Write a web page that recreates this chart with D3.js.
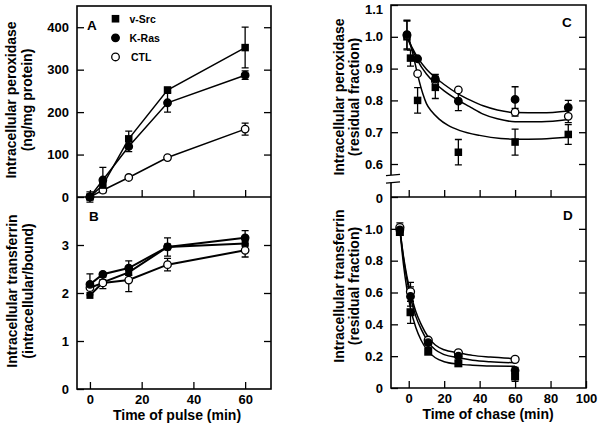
<!DOCTYPE html>
<html><head><meta charset="utf-8">
<script src="https://cdn.jsdelivr.net/npm/d3@7"></script>
<style>html,body{margin:0;padding:0;background:#fff;}svg{display:block;}</style>
</head><body>
<svg id="chart" width="598" height="424"></svg>
<script>
// ---------------- DATA ----------------
const seriesNames = ["v-Src", "K-Ras", "CTL"];
// Panel A: intracellular peroxidase (ng/mg protein) vs time of pulse
const pulseTimes = [0, 5, 15, 30, 60];
const peroxSrc = [0, 28, 137, 252, 352];
const peroxSrcErr = [12, 0, 18, 6, 48];
const peroxRas = [0, 40, 119, 222, 287];
const peroxRasErr = [0, 30, 12, 22, 10];
const peroxCtl = [0, 16, 46, 93, 160];
const peroxCtlErr = [0, 0, 0, 0, 14];
// Panel B: intracellular transferrin (intracellular/bound)
const tfSrc = [1.95, 2.22, 2.43, 2.96, 3.03];
const tfSrcErr = [0, 0, 0, 0, 0];
const tfRas = [2.18, 2.39, 2.52, 2.96, 3.15];
const tfRasErr = [0.22, 0, 0.15, 0.19, 0.15];
const tfCtl = [2.11, 2.21, 2.27, 2.59, 2.89];
const tfCtlErr = [0, 0.12, 0.24, 0.13, 0.14];
// Panel C: residual peroxidase vs time of chase
const cSrcX = [-1, 1, 5, 15, 28, 60, 90];
const cSrc = [1.0, 0.933, 0.80, 0.841, 0.637, 0.669, 0.693];
const cSrcErr = [0, 0.025, 0.04, 0.035, 0.04, 0.041, 0.031];
const cRasX = [-1, 5, 15, 28, 60, 90];
const cRas = [1.007, 0.931, 0.867, 0.798, 0.803, 0.778];
const cRasErr = [0.045, 0, 0.015, 0.03, 0.04, 0.022];
const cCtlX = [-1, 5, 15, 28, 60, 90];
const cCtl = [1.004, 0.884, 0.862, 0.833, 0.763, 0.75];
const cCtlErr = [0.045, 0, 0, 0, 0.012, 0.02];
// Panel C fitted curves
const cFitRasX = [-1, 2, 5, 10, 15, 20, 28, 35, 42, 50, 60, 75, 90];
const cFitRas = [1.0, 0.965, 0.935, 0.898, 0.872, 0.85, 0.82, 0.80, 0.783, 0.77, 0.762, 0.761, 0.767];
const cFitCtlX = [-1, 2, 5, 10, 15, 20, 28, 35, 42, 50, 60, 75, 90];
const cFitCtl = [1.0, 0.96, 0.925, 0.883, 0.853, 0.83, 0.80, 0.778, 0.757, 0.742, 0.733, 0.733, 0.74];
const cFitSrcX = [0, 2.6, 5.5, 8, 10, 13, 17, 22, 29, 40, 52, 60, 75, 90];
const cFitSrc = [1.0, 0.94, 0.87, 0.82, 0.79, 0.765, 0.742, 0.722, 0.705, 0.69, 0.68, 0.678, 0.679, 0.684];
// Panel D: residual transferrin vs time of chase
const dX = [-5, 1, 11, 28, 60];
const dSrc = [0.98, 0.476, 0.228, 0.155, 0.072];
const dSrcErr = [0, 0.07, 0, 0, 0.03];
const dRas = [0.994, 0.575, 0.285, 0.20, 0.11];
const dRasErr = [0, 0.06, 0.03, 0, 0.02];
const dCtl = [1.008, 0.604, 0.30, 0.221, 0.18];
const dCtlErr = [0.03, 0.06, 0, 0, 0];
// Panel D fitted curves
const dFitX = [-5, -3, -1, 1, 4, 7, 11, 15, 20, 28, 36, 46, 60];
const dFitCtl = [1.0, 0.83, 0.70, 0.60, 0.48, 0.40, 0.32, 0.27, 0.24, 0.222, 0.205, 0.195, 0.185];
const dFitRas = [1.0, 0.82, 0.68, 0.57, 0.45, 0.37, 0.29, 0.24, 0.21, 0.19, 0.175, 0.165, 0.158];
const dFitSrc = [1.0, 0.78, 0.62, 0.50, 0.38, 0.30, 0.23, 0.19, 0.165, 0.15, 0.143, 0.138, 0.137];
// Tick labels
const pulseTicks = [0, 20, 40, 60];
const peroxTicks = [0, 100, 200, 300, 400];
const tfTicks = [0, 1, 2, 3];
const chaseTicks = [0, 20, 40, 60, 80, 100];
const cTicks = [0, 0.6, 0.7, 0.8, 0.9, 1.0, 1.1];
const dTicks = [0, 0.2, 0.4, 0.6, 0.8, 1.0];

// ---------------- LAYOUT ----------------
const FONT = "'Liberation Sans', Arial, Helvetica, sans-serif";
const svg = d3.select("#chart").style("font-family", FONT);

const L = {x0: 77, x1: 271, aTop: 6, mid: 197, bBot: 389};
const R = {x0: 391, x1: 586, cTop: 5, mid: 197, dBot: 388};

const xL = d3.scaleLinear().domain([-5, 70]).range([L.x0, L.x1]);
const yA = d3.scaleLinear().domain([0, 450]).range([L.mid, L.aTop]);
const yB = d3.scaleLinear().domain([0, 4]).range([L.bBot, L.mid]);
const xR = d3.scaleLinear().domain([-10, 100]).range([R.x0, R.x1]);
const yC = d3.scaleLinear().domain([0, 0.545, 1.1]).range([R.mid, 181.5, R.cTop]);
const yD = d3.scaleLinear().domain([0, 1.2]).range([R.dBot, R.mid]);

const TICK = 7;

function styleAxis(g, fs) {
  g.select(".domain").remove();
  g.selectAll(".tick line").attr("stroke", "#000").attr("stroke-width", 1.3);
  g.selectAll(".tick text").attr("fill", "#000").attr("font-size", fs || 13)
    .attr("font-weight", "bold").attr("font-family", FONT);
}

function axes(opts) {
  const {x, y, left, right, bottom, yTicks, yFmt, xTicks, xLabels, yRightTicks} = opts;
  const gl = svg.append("g").attr("transform", `translate(${left},0)`)
    .call(d3.axisLeft(y).tickValues(yTicks).tickSize(-TICK).tickPadding(8).tickFormat(yFmt));
  styleAxis(gl);
  const gr = svg.append("g").attr("transform", `translate(${right},0)`)
    .call(d3.axisRight(y).tickValues(yRightTicks).tickSize(-TICK).tickFormat(""));
  styleAxis(gr);
  const gb = svg.append("g").attr("transform", `translate(0,${bottom})`)
    .call(d3.axisBottom(x).tickValues(xTicks).tickSize(-TICK).tickPadding(6)
      .tickFormat(xLabels ? d3.format("d") : ""));
  styleAxis(gb);
  return gl;
}

// ---------------- MARKS ----------------
const lineGen = (x, y) => d3.line().x(d => x(d[0])).y(d => y(d[1]));

function drawLine(xs, ys, x, y, w, curve) {
  const gen = lineGen(x, y);
  if (curve) gen.curve(curve);
  svg.append("path").datum(d3.zip(xs, ys)).attr("d", gen)
    .attr("fill", "none").attr("stroke", "#000").attr("stroke-width", w);
}

function drawErr(xs, ys, es, x, y) {
  const idx = d3.range(xs.length).filter(i => es[i] > 0);
  const cap = 3.5;
  svg.append("g").selectAll("path").data(idx).join("path")
    .attr("d", i => {
      const cx = x(xs[i]), y1 = y(ys[i] - es[i]), y2 = y(ys[i] + es[i]);
      return `M${cx},${y1}V${y2}M${cx - cap},${y1}h${2 * cap}M${cx - cap},${y2}h${2 * cap}`;
    })
    .attr("fill", "none").attr("stroke", "#000").attr("stroke-width", 1.3);
}

function drawMarkers(xs, ys, x, y, kind, size) {
  const data = d3.zip(xs, ys);
  const g = svg.append("g");
  if (kind === "square") {
    g.selectAll("rect").data(data).join("rect")
      .attr("x", d => x(d[0]) - size / 2).attr("y", d => y(d[1]) - size / 2)
      .attr("width", size).attr("height", size).attr("fill", "#000");
  } else {
    g.selectAll("circle").data(data).join("circle")
      .attr("cx", d => x(d[0])).attr("cy", d => y(d[1])).attr("r", size / 2)
      .attr("fill", kind === "filled" ? "#000" : "#fff")
      .attr("stroke", "#000").attr("stroke-width", 1.3);
  }
}

function text(x, y, str, fs, anchor, rotate) {
  const t = svg.append("text").text(str).attr("font-size", fs).attr("font-weight", "bold")
    .attr("fill", "#000").attr("text-anchor", anchor || "start");
  if (rotate) t.attr("transform", `translate(${x},${y}) rotate(-90)`);
  else t.attr("x", x).attr("y", y);
  return t;
}

// ---------- Panel A ----------
drawLine(pulseTimes, peroxSrc, xL, yA, 1.5);
drawLine(pulseTimes, peroxRas, xL, yA, 1.5);
drawLine(pulseTimes, peroxCtl, xL, yA, 1.5);
drawErr(pulseTimes, peroxSrc, peroxSrcErr, xL, yA);
drawErr(pulseTimes, peroxRas, peroxRasErr, xL, yA);
drawErr(pulseTimes, peroxCtl, peroxCtlErr, xL, yA);
drawMarkers(pulseTimes, peroxCtl, xL, yA, "open", 7.5);
drawMarkers(pulseTimes, peroxRas, xL, yA, "filled", 7.5);
drawMarkers(pulseTimes, peroxSrc, xL, yA, "square", 7.5);

// ---------- Panel B ----------
drawLine(pulseTimes, tfSrc, xL, yB, 2);
drawLine(pulseTimes, tfRas, xL, yB, 2);
drawLine(pulseTimes, tfCtl, xL, yB, 2);
drawErr(pulseTimes, tfSrc, tfSrcErr, xL, yB);
drawErr(pulseTimes, tfRas, tfRasErr, xL, yB);
drawErr(pulseTimes, tfCtl, tfCtlErr, xL, yB);
drawMarkers(pulseTimes, tfSrc, xL, yB, "square", 7);
drawMarkers(pulseTimes, tfCtl, xL, yB, "open", 7.5);
drawMarkers(pulseTimes, tfRas, xL, yB, "filled", 7.5);

// ---------- Panel C ----------
drawLine(cFitRasX, cFitRas, xR, yC, 1.5, d3.curveMonotoneX);
drawLine(cFitCtlX, cFitCtl, xR, yC, 1.5, d3.curveMonotoneX);
drawLine(cFitSrcX, cFitSrc, xR, yC, 1.5, d3.curveMonotoneX);
drawErr(cSrcX, cSrc, cSrcErr, xR, yC);
drawErr(cRasX, cRas, cRasErr, xR, yC);
drawErr(cCtlX, cCtl, cCtlErr, xR, yC);
drawMarkers(cSrcX, cSrc, xR, yC, "square", 7.5);
drawMarkers(cCtlX, cCtl, xR, yC, "open", 7.5);
drawMarkers(cRasX, cRas, xR, yC, "filled", 7.5);

// ---------- Panel D ----------
drawLine(dFitX, dFitCtl, xR, yD, 1.5, d3.curveMonotoneX);
drawLine(dFitX, dFitRas, xR, yD, 1.5, d3.curveMonotoneX);
drawLine(dFitX, dFitSrc, xR, yD, 1.5, d3.curveMonotoneX);
drawErr(dX, dSrc, dSrcErr, xR, yD);
drawErr(dX, dRas, dRasErr, xR, yD);
drawErr(dX, dCtl, dCtlErr, xR, yD);
drawMarkers(dX, dSrc, xR, yD, "square", 8);
drawMarkers(dX, dCtl, xR, yD, "open", 8);
drawMarkers(dX, dRas, xR, yD, "filled", 7.5);

// ---------------- AXES & FRAMES ----------------
axes({x: xL, y: yA, left: L.x0, right: L.x1, bottom: L.mid, yTicks: peroxTicks, yFmt: d3.format("d"),
  xTicks: pulseTicks, xLabels: false, yRightTicks: peroxTicks.slice(1)});
axes({x: xL, y: yB, left: L.x0, right: L.x1, bottom: L.bBot, yTicks: tfTicks, yFmt: d3.format("d"),
  xTicks: pulseTicks, xLabels: true, yRightTicks: [1, 2, 3]});
const fracFmt = d => d === 0 ? "0" : d3.format(".1f")(d);
const gC = axes({x: xR, y: yC, left: R.x0, right: R.x1, bottom: R.mid, yTicks: cTicks, yFmt: fracFmt,
  xTicks: chaseTicks.slice(0, 5), xLabels: false, yRightTicks: [0.6, 0.7, 0.8, 0.9, 1.0]});
// top label 1.1 sits just below the frame edge
gC.selectAll(".tick text").filter(d => d === 1.1).attr("dy", "0.62em");
gC.selectAll(".tick text").filter(d => d === 0).attr("dy", "0.45em");
axes({x: xR, y: yD, left: R.x0, right: R.x1, bottom: R.dBot, yTicks: dTicks, yFmt: fracFmt,
  xTicks: chaseTicks, xLabels: true, yRightTicks: [0.2, 0.4, 0.6, 0.8, 1.0]});

// frames
const frame = svg.append("g").attr("fill", "none").attr("stroke", "#000").attr("stroke-width", 1.6);
frame.append("rect").attr("x", L.x0).attr("y", L.aTop).attr("width", L.x1 - L.x0).attr("height", L.bBot - L.aTop);
frame.append("line").attr("x1", L.x0).attr("x2", L.x1).attr("y1", L.mid).attr("y2", L.mid);
const brkTop = yC(0.6) + 11, brkBot = yC(0.6) + 18.5;
frame.append("path").attr("d",
  `M${R.x0},${brkTop}V${R.cTop}H${R.x1}V${R.dBot}H${R.x0}V${brkBot}`);
frame.append("line").attr("x1", R.x0).attr("x2", R.x1).attr("y1", R.mid).attr("y2", R.mid);
svg.append("g").attr("stroke", "#000").attr("stroke-width", 1.3)
  .selectAll("line").data([brkTop, brkBot]).join("line")
  .attr("x1", R.x0 - 5).attr("x2", R.x0 + 9).attr("y1", d => d + 0.6).attr("y2", d => d - 0.6);

// ---------------- TEXT ----------------
text(87, 29.5, "A", 13.5);
text(89, 221, "B", 13.5);
text(562, 26.5, "C", 13.5);
text(563, 219.5, "D", 13.5);

// legend
const legY = [yA(420), yA(375), yA(330)];
const legKinds = ["square", "filled", "open"];
const legG = svg.append("g");
legKinds.forEach((k, i) => {
  const cx = 115.5, cy = legY[i];
  if (k === "square") legG.append("rect").attr("x", cx - 3.8).attr("y", cy - 3.8).attr("width", 7.6).attr("height", 7.6).attr("fill", "#000");
  else legG.append("circle").attr("cx", cx).attr("cy", cy).attr("r", 3.8)
    .attr("fill", k === "filled" ? "#000" : "#fff").attr("stroke", "#000").attr("stroke-width", 1.3);
  text(i === 2 ? 131 : 129.5, cy + 3.9, seriesNames[i], 10.5);
});

// axis titles
text(15.5, 100, "Intracellular peroxidase", 14, "middle", true);
text(31.5, 100, "(ng/mg protein)", 14, "middle", true);
text(16.5, 291, "Intracellular transferrin", 14, "middle", true);
text(32.5, 291, "(intracellular/bound)", 14, "middle", true);
text(344, 97, "Intracellular peroxidase", 14, "middle", true);
text(359, 97, "(residual fraction)", 14, "middle", true);
text(344, 286, "Intracellular transferrin", 14, "middle", true);
text(359, 286, "(residual fraction)", 14, "middle", true);
text(177, 420, "Time of pulse (min)", 14, "middle");
text(488, 418.5, "Time of chase (min)", 14, "middle");
</script>
</body></html>
